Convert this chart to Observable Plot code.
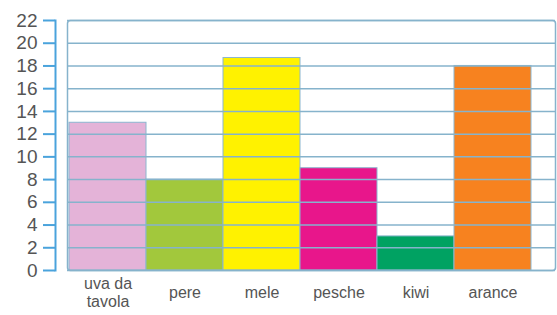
<!DOCTYPE html>
<html>
<head>
<meta charset="utf-8">
<script src="https://cdn.jsdelivr.net/npm/d3@7"></script>
<script src="https://cdn.jsdelivr.net/npm/@observablehq/plot@0.6"></script>
<style>
  html, body { margin: 0; padding: 0; background: #fff; }
  #chart svg { display: block; }
</style>
</head>
<body>
<div id="chart"></div>
<script>
const categories = ["uva da\ntavola", "pere", "mele", "pesche", "kiwi", "arance"];
const values = [13, 8, 18.7, 9, 3, 18];
const colors = ["#e4b3d8", "#a2c83c", "#fff200", "#e8168b", "#00a262", "#f7821f"];
const yTicks = [0, 2, 4, 6, 8, 10, 12, 14, 16, 18, 20, 22];

const data = categories.map((c, i) => ({name: c, value: values[i], color: colors[i]}));

const chart = Plot.plot({
  width: 557,
  height: 315,
  marginLeft: 67,
  marginRight: 2,
  marginTop: 20,
  marginBottom: 45,
  style: {fontFamily: "'Liberation Sans', Arial, sans-serif", color: "#555", background: "#fff"},
  x: {domain: categories, range: [67, 532], padding: 0, axis: null},
  y: {domain: [0, 22], axis: null},
  marks: [
    Plot.barY(data, {x: "name", y: "value", fill: "color", stroke: "#8cb6cf", strokeWidth: 1}),
    Plot.ruleY(yTicks, {stroke: "#86b3cc", strokeWidth: 1.5}),
    Plot.frame({stroke: "#86b3cc", strokeWidth: 1.5, rx: 3}),
    Plot.frame({anchor: "left", dx: -12, stroke: "#4aa3dc", strokeWidth: 2}),
    Plot.axisY(yTicks, {label: null, tickSize: 12, dx: -12, tickPadding: 6, stroke: "#4aa3dc", strokeWidth: 2, fontSize: 19, fill: "#555"}),
    Plot.text(data, {x: "name", y: 0, text: "name", dy: 22, lineAnchor: "middle", fontSize: 16, fill: "#555", lineHeight: 1.08})
  ]
});
document.getElementById("chart").appendChild(chart);
</script>
</body>
</html>
